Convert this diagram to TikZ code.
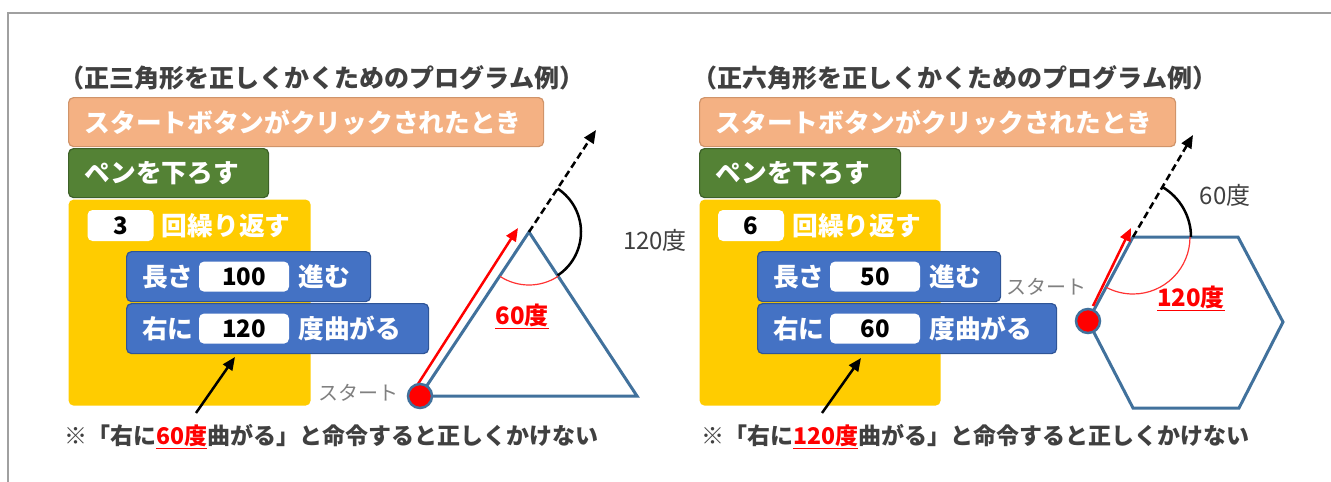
\documentclass[tikz,border=0pt]{standalone}
\usepackage{fontspec}
\usetikzlibrary{positioning,arrows.meta,calc}
\newfontfamily\jp{Noto Sans CJK JP}
\definecolor{hatfill}{HTML}{F4B183}
\definecolor{hatedge}{HTML}{D0946A}
\definecolor{penfill}{HTML}{548235}
\definecolor{penedge}{HTML}{3D6128}
\definecolor{loopfill}{HTML}{FFCC00}
\definecolor{movefill}{HTML}{4472C4}
\definecolor{moveedge}{HTML}{2F5597}
\definecolor{shapeblue}{HTML}{41719C}
\definecolor{inkgray}{HTML}{404040}
\definecolor{startgray}{HTML}{808080}
\definecolor{framegray}{HTML}{A0A0A0}

\begin{document}
\begin{tikzpicture}[x=1pt, y=-1pt,
  blk/.style={rounded corners=5pt, anchor=north west, inner xsep=16pt, inner ysep=0pt, minimum height=49pt, line width=1.2pt, align=left, text=white, font=\jp\bfseries\fontsize{25.7}{25.7}\selectfont},
  hatblk/.style={blk, fill=hatfill, draw=hatedge},
  penblk/.style={blk, fill=penfill, draw=penedge},
  loopblk/.style={blk, fill=loopfill, draw=none},
  moveblk/.style={blk, fill=movefill, draw=moveedge, minimum height=50pt},
  word/.style={inner sep=0pt, text=white, font=\jp\bfseries\fontsize{25.7}{25.7}\selectfont},
  slot/.style={fill=white, rounded corners=5pt, minimum width=90pt, minimum height=30pt, inner sep=0pt, text=black, font=\jp\bfseries\fontsize{24}{24}\selectfont},
  caption/.style={inner sep=0pt, text=inkgray, font=\jp\bfseries\fontsize{25}{25}\selectfont},
  remark/.style={inner sep=0pt, anchor=west, text=inkgray, font=\jp\bfseries\fontsize{23}{23}\selectfont},
  degtext/.style={inner sep=0pt, font=\jp\fontsize{24}{24}\selectfont},
  startlbl/.style={inner sep=0pt, text=startgray, font=\jp\fontsize{20}{20}\selectfont},
  outline/.style={draw=shapeblue, line width=3pt, line join=miter},
  penpath/.style={red, line width=2.5pt, -{Triangle[length=13pt,width=11pt]}},
  heading/.style={black, line width=2.5pt, dash pattern=on 7pt off 4pt, -{Triangle[length=13pt,width=11pt]}},
  pointer/.style={black, line width=2.5pt, -{Triangle[length=13pt,width=11pt]}},
  dot/.style={circle, fill=red, draw=shapeblue, line width=2.5pt, minimum size=24pt, inner sep=0pt}
]
\useasboundingbox (0,0) rectangle (1331,482);
\draw[framegray, line width=1.5pt] (8,482) -- (8,13) -- (1331,13);

% triangle program
\node[caption] (t-title) at (322,78) {（正三角形を正しくかくためのプログラム例）};
\node[hatblk, text width=443pt] (t-hat) at (68,97) {スタートボタンがクリックされたとき};
\node[penblk, text width=168pt] (t-pen) at (68,148) {ペンを下ろす};
\node[loopblk, minimum width=242pt, minimum height=206pt] (t-loop) at (68,199) {};
\node[slot, minimum width=66pt, minimum height=31pt] (t-cnt) at (120.5,225.5) {3};
\node[word, right=8pt of t-cnt] (t-rep) {回繰り返す};
\node[moveblk, minimum width=244pt] (t-fwd) at (126,251) {};
\node[word, anchor=west] (t-fwd-a) at ([xshift=16pt]t-fwd.west) {長さ};
\node[slot, right=5pt of t-fwd-a] (t-fwd-n) {100};
\node[word, right=9pt of t-fwd-n] (t-fwd-b) {進む};
\node[moveblk, minimum width=302pt] (t-turn) at (126,303) {};
\node[word, anchor=west] (t-turn-a) at ([xshift=16pt]t-turn.west) {右に};
\node[slot, right=5pt of t-turn-a] (t-turn-n) {120};
\node[word, right=9pt of t-turn-n] (t-turn-b) {度曲がる};

\coordinate (t-a) at (420,396);
\coordinate (t-b) at (529,232);
\coordinate (t-c) at (637,396);
\coordinate (t-aim) at (596,130);
\coordinate (t-p0) at (418,384);
\coordinate (t-p1) at (518,228);
\draw[outline] (t-a) -- (t-b) -- (t-c) -- cycle;
\draw[heading] (t-b) -- (t-aim);
\draw[black, line width=2.5pt] ($(t-b)+(56.7:52pt)$) arc[start angle=56.7, end angle=-56.6, radius=52pt];
\draw[red!80, line width=1.2pt] ($(t-b)+(237:53pt)$) arc[start angle=237, end angle=303.4, radius=53pt];
\draw[penpath] (t-p0) -- (t-p1);
\node[dot] (t-dot) at (t-a) {};
\node[startlbl] (t-st) at (358,393) {スタート};
\node[degtext, text=red] (t-in) at (522,316) {\bfseries\underline{60度}};
\node[degtext, text=inkgray] (t-out) at (655,240) {120度};

\node[remark] (t-note) at (64,437) {※「右に\textcolor{red}{\underline{60度}}曲がる」と命令すると正しくかけない};
\coordinate (t-tail) at (196,413);
\coordinate (t-tip) at (235,357);
\draw[pointer] (t-tail) -- (t-tip);

% hexagon program
\node[caption] (h-title) at (955,78) {（正六角形を正しくかくためのプログラム例）};
\node[hatblk, text width=444pt] (h-hat) at (699,97) {スタートボタンがクリックされたとき};
\node[penblk, text width=169pt] (h-pen) at (699,148) {ペンを下ろす};
\node[loopblk, minimum width=241pt, minimum height=206pt] (h-loop) at (699,199) {};
\node[slot, minimum width=66pt, minimum height=31pt] (h-cnt) at (751,225.5) {6};
\node[word, right=8pt of h-cnt] (h-rep) {回繰り返す};
\node[moveblk, minimum width=243pt] (h-fwd) at (757,251) {};
\node[word, anchor=west] (h-fwd-a) at ([xshift=16pt]h-fwd.west) {長さ};
\node[slot, right=5pt of h-fwd-a] (h-fwd-n) {50};
\node[word, right=9pt of h-fwd-n] (h-fwd-b) {進む};
\node[moveblk, minimum width=299pt] (h-turn) at (757,303) {};
\node[word, anchor=west] (h-turn-a) at ([xshift=16pt]h-turn.west) {右に};
\node[slot, right=5pt of h-turn-a] (h-turn-n) {60};
\node[word, right=9pt of h-turn-n] (h-turn-b) {度曲がる};

\coordinate (h-a) at (1088,321);
\coordinate (h-b) at (1133,237);
\coordinate (h-c) at (1238,237);
\coordinate (h-d) at (1283,322);
\coordinate (h-e) at (1239,408);
\coordinate (h-f) at (1133,408);
\coordinate (h-aim) at (1193,135);
\coordinate (h-p0) at (1093,306);
\coordinate (h-p1) at (1131,228);
\draw[outline] (h-a) -- (h-b) -- (h-c) -- (h-d) -- (h-e) -- (h-f) -- cycle;
\draw[heading] (h-b) -- (h-aim);
\draw[black, line width=2.5pt] ($(h-b)+(59.5:58pt)$) arc[start angle=59.5, end angle=0, radius=58pt];
\draw[red!80, line width=1.2pt] ($(h-b)+(0:57pt)$) arc[start angle=0, end angle=-118, radius=57pt];
\draw[penpath] (h-p0) -- (h-p1);
\node[dot] (h-dot) at (h-a) {};
\node[startlbl] (h-st) at (1046,287) {スタート};
\node[degtext, text=red] (h-in) at (1191,298) {\bfseries\underline{120度}};
\node[degtext, text=inkgray] (h-out) at (1225,195) {60度};

\node[remark] (h-note) at (701,437) {※「右に\textcolor{red}{\underline{120度}}曲がる」と命令すると正しくかけない};
\coordinate (h-tail) at (822,413);
\coordinate (h-tip) at (861,358);
\draw[pointer] (h-tail) -- (h-tip);
\end{tikzpicture}
\end{document}
